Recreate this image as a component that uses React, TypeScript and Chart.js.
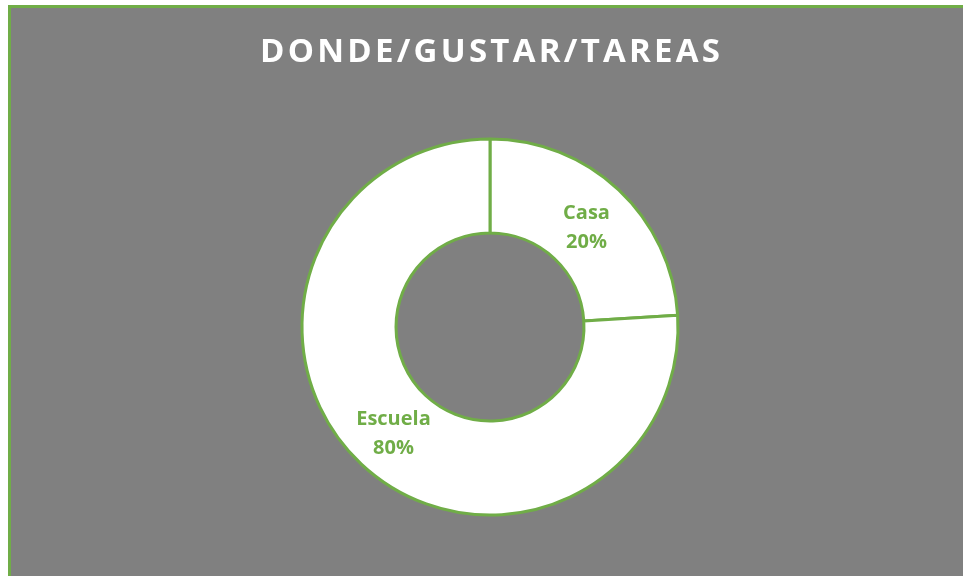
import React, { useEffect, useRef } from "react";
import { Chart, registerables } from "chart.js";

Chart.register(...registerables);

const titleText = "DONDE/GUSTAR/TAREAS";
const categories = ["Casa", "Escuela"];
const values = [24, 76];
const percentLabels = ["20%", "80%"];

const GREEN = "#70AD47";
const GRAY = "#808080";

const titlePlugin = {
  id: "customTitle",
  afterDraw(chart: any) {
    const ctx = chart.ctx;
    ctx.save();
    ctx.font = "bold 33px Open Sans";
    ctx.fillStyle = "#FFFFFF";
    ctx.textBaseline = "alphabetic";
    ctx.textAlign = "left";
    const chars = titleText.split("");
    const widths = chars.map((c) => ctx.measureText(c).width);
    const sum = widths.reduce((a, b) => a + b, 0);
    const target = 460;
    const sp = (target - sum) / (chars.length - 1);
    const total = sum + sp * (chars.length - 1);
    let x = 479 - total / 2;
    chars.forEach((c, i) => {
      ctx.fillText(c, x, 54);
      x += widths[i] + sp;
    });
    ctx.restore();
  },
};

const labelPlugin = {
  id: "sliceLabels",
  afterDatasetsDraw(chart: any) {
    const ctx = chart.ctx;
    const meta = chart.getDatasetMeta(0);
    ctx.save();
    ctx.font = "bold 20px Open Sans";
    ctx.fillStyle = GREEN;
    ctx.textAlign = "center";
    ctx.textBaseline = "middle";
    meta.data.forEach((arc: any, i: number) => {
      const p = arc.tooltipPosition();
      ctx.fillText(categories[i], p.x, p.y - 10.5);
      ctx.fillText(percentLabels[i], p.x, p.y + 18.5);
    });
    ctx.restore();
  },
};

export default function App() {
  const ref = useRef<HTMLCanvasElement>(null);
  useEffect(() => {
    if (!ref.current) return;
    const chart = new Chart(ref.current, {
      type: "doughnut",
      data: {
        labels: categories,
        datasets: [
          {
            data: values,
            backgroundColor: ["#FFFFFF", "#FFFFFF"],
            borderColor: GREEN,
            borderWidth: 3,
          },
        ],
      },
      options: {
        responsive: false,
        animation: false,
        devicePixelRatio: 1,
        radius: 188,
        cutout: "50%",
        layout: { padding: { left: 6, right: 0, top: 70, bottom: 0 } },
        plugins: {
          legend: { display: false },
          tooltip: { enabled: false },
          title: { display: false },
        },
      } as any,
      plugins: [titlePlugin, labelPlugin],
    });
    return () => chart.destroy();
  }, []);

  return (
    <div
      style={{
        position: "fixed",
        left: 8,
        top: 5,
        width: 955,
        height: 571,
        background: GRAY,
        borderLeft: `3px solid ${GREEN}`,
        borderTop: `3px solid ${GREEN}`,
        boxSizing: "border-box",
        overflow: "hidden",
      }}
    >
      <canvas ref={ref} width={952} height={568} style={{ display: "block" }} />
    </div>
  );
}
